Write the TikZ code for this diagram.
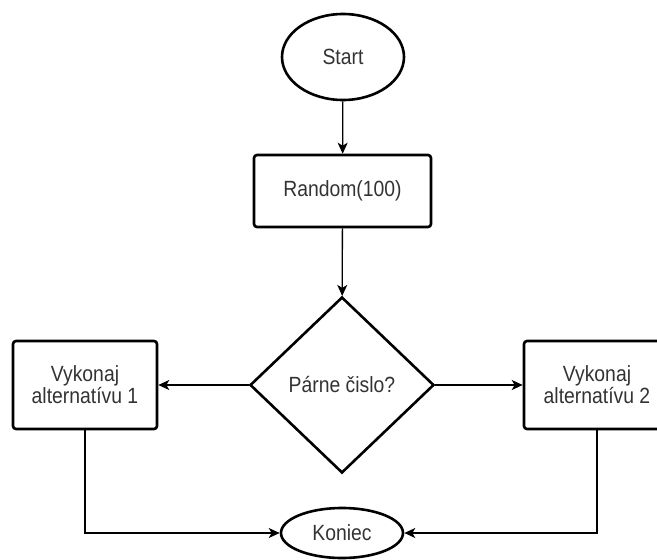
\documentclass[tikz,border=0pt]{standalone}
\usepackage{fontspec}
\setmainfont[FakeStretch=0.88]{Liberation Sans}
\usetikzlibrary{shapes.geometric}
\usetikzlibrary{arrows.meta}

\begin{document}
\begin{tikzpicture}[x=1pt,y=-1pt,
  >={Stealth[length=11pt,width=10pt,inset=3pt]},
  shape line/.style={draw=black,line width=2.6pt,inner sep=0pt,text=black!80,
    font=\fontsize{22}{22}\selectfont,align=center},
  box/.style={shape line,rectangle,rounded corners=3pt},
  terminal/.style={shape line,ellipse},
  choice/.style={shape line,diamond},
  flow/.style={draw=black,line width=1.3pt,->}]

\useasboundingbox (0,0) rectangle (657,560);

\node[terminal,minimum width=122,minimum height=86] (start) at (343,57) {Start};
\node[box,minimum width=177,minimum height=72] (rand) at (342.5,191) {Random(100)};
\node[choice,minimum width=184,minimum height=176] (even) at (342,385) {Párne čislo?};

\node[box,minimum width=144,minimum height=88] (alt1) at (85,385) {Vykonaj\\alternatívu 1};
\node[box,minimum width=146,minimum height=88] (alt2) at (597,385) {Vykonaj\\alternatívu 2};

\node[terminal,minimum width=122,minimum height=50] (end) at (342,533) {Koniec};

\draw[flow] (start) -- (rand);
\draw[flow] (rand) -- (even);
\draw[flow] (even.west) -- (alt1.east);
\draw[flow] (even.east) -- (alt2.west);
\draw[flow] (alt1.south) |- (end.west);
\draw[flow] (alt2.south) |- (end.east);
\end{tikzpicture}
\end{document}
